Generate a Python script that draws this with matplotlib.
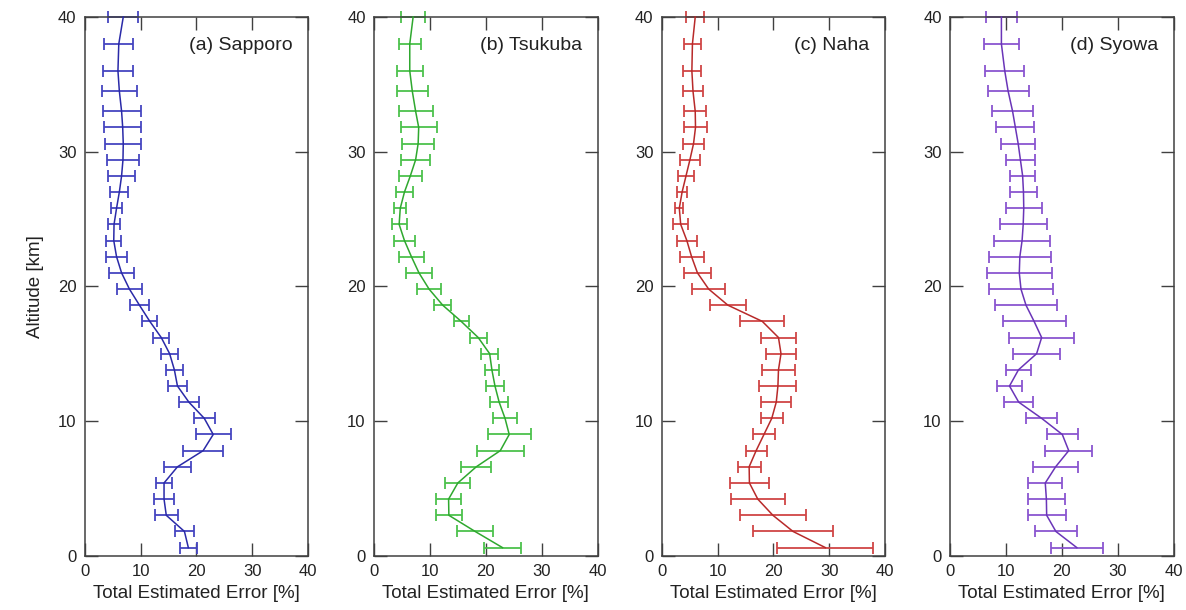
import numpy as np
import matplotlib
matplotlib.use("Agg")
import matplotlib.pyplot as plt

plt.rcParams['font.family'] = ['Liberation Sans', 'DejaVu Sans']

# altitude levels [km], top to bottom
alt = [40.0, 38.0, 36.0, 34.5, 33.0, 31.8, 30.6, 29.4, 28.2, 27.0, 25.8, 24.6, 23.4, 22.2, 21.0, 19.8,
       18.6, 17.4, 16.2, 15.0, 13.8, 12.6, 11.4, 10.2, 9.0, 7.8, 6.6, 5.4, 4.2, 3.0, 1.8, 0.6]

# (a) Sapporo
sap_val = [6.9, 6.1, 5.95, 6.2, 6.6, 6.8, 6.9, 6.85, 6.6, 6.2, 5.7, 5.25, 5.2, 5.7, 6.6, 8.0,
           9.8, 11.65, 13.7, 15.2, 16.05, 16.6, 18.65, 21.4, 23.0, 21.2, 16.6, 14.2, 14.2, 14.6, 17.85, 18.55]
sap_err = [2.7, 2.6, 2.75, 3.1, 3.4, 3.3, 3.2, 2.9, 2.4, 1.6, 1.05, 1.05, 1.3, 1.8, 2.25, 2.3,
           1.7, 1.35, 1.4, 1.5, 1.55, 1.65, 1.75, 1.85, 3.1, 3.6, 2.4, 1.5, 1.8, 2.1, 1.75, 1.55]

# (b) Tsukuba
tsu_val = [7.0, 6.4, 6.4, 6.85, 7.45, 8.0, 7.9, 7.45, 6.5, 5.45, 4.7, 4.5, 5.45, 6.7, 8.05, 9.85,
           12.3, 15.6, 18.65, 20.7, 21.1, 21.65, 22.4, 23.45, 24.2, 22.6, 18.3, 15.0, 13.35, 13.4, 18.1, 23.0]
tsu_err = [2.1, 2.0, 2.3, 2.75, 3.05, 3.2, 2.9, 2.65, 2.1, 1.5, 1.1, 1.35, 1.95, 2.3, 2.3, 2.15,
           1.5, 1.35, 1.55, 1.5, 1.2, 1.6, 1.6, 2.15, 3.85, 4.2, 2.7, 2.25, 2.2, 2.3, 3.2, 3.3]

# (c) Naha
nah_val = [6.0, 5.5, 5.4, 5.6, 6.0, 6.05, 5.7, 5.05, 4.35, 3.65, 3.15, 3.4, 4.5, 5.35, 6.4, 8.4,
           11.85, 18.0, 20.9, 21.35, 20.9, 20.8, 20.5, 19.7, 18.3, 16.9, 15.65, 15.7, 17.2, 19.9, 23.5, 29.3]
nah_err = [1.65, 1.5, 1.6, 1.8, 2.0, 2.05, 1.9, 1.75, 1.35, 0.95, 0.75, 1.3, 1.8, 2.15, 2.4, 3.0,
           3.15, 3.95, 3.2, 2.6, 2.9, 3.3, 2.7, 2.0, 1.9, 1.9, 2.05, 3.5, 4.8, 5.9, 7.2, 8.6]

# (d) Syowa
syo_val = [9.2, 9.2, 9.8, 10.4, 11.2, 11.7, 12.2, 12.6, 13.0, 13.15, 13.2, 13.1, 12.9, 12.5, 12.4, 12.7,
           13.6, 15.05, 16.4, 15.5, 12.25, 10.65, 12.3, 16.4, 20.1, 21.25, 18.9, 17.05, 17.25, 17.3, 18.95, 22.7]
syo_err = [2.75, 3.2, 3.5, 3.65, 3.6, 3.4, 3.0, 2.6, 2.25, 2.4, 3.2, 4.2, 5.0, 5.6, 5.8, 5.7,
           5.5, 5.65, 5.85, 4.2, 2.25, 2.3, 2.6, 2.8, 2.8, 4.25, 4.0, 3.05, 3.25, 3.4, 3.75, 4.7]

titles = ['(a) Sapporo', '(b) Tsukuba', '(c) Naha', '(d) Syowa']
values = [sap_val, tsu_val, nah_val, syo_val]
errors = [sap_err, tsu_err, nah_err, syo_err]
line_colors = ['#2a2aa8', '#2fa82f', '#b82a2a', '#6a35b8']
bar_colors = ['#4545c0', '#4cc24c', '#d04545', '#8a55d0']

fig = plt.figure(figsize=(11.86, 6.10), dpi=100)
lefts = [84.7, 374.0, 661.7, 950.0]
for i in range(4):
    ax = fig.add_axes([lefts[i] / 1186, 54.3 / 610, 223.5 / 1186, 538.7 / 610])
    eb = ax.errorbar(values[i], alt, xerr=errors[i], fmt='none', ecolor=bar_colors[i],
                     elinewidth=1.3, capsize=4.3, capthick=1.3, zorder=2)
    for art in eb.lines[1] + eb.lines[2]:
        art.set_clip_on(False)
    ax.plot(values[i], alt, color=line_colors[i], lw=1.1, zorder=3, clip_on=False)
    ax.set_xlim(0, 40)
    ax.set_ylim(0, 40)
    ax.set_xticks([0, 10, 20, 30, 40])
    ax.set_yticks([0, 10, 20, 30, 40])
    ax.tick_params(direction='in', length=9.5, width=1.0, color='#404040',
                   top=True, right=True, labelsize=12, labelcolor='#222222', pad=6)
    for s in ax.spines.values():
        s.set_color('#404040')
        s.set_linewidth(1.1)
    ax.set_xlabel('Total Estimated Error [%]', fontsize=13.5, color='#222222', labelpad=4)
    ax.text(0.93, 0.948, titles[i], transform=ax.transAxes, ha='right', va='center',
            fontsize=14, color='#222222')
    if i == 0:
        ax.set_ylabel('Altitude [km]', fontsize=13.5, color='#222222', labelpad=10)

fig.savefig('out.png', dpi=100)
